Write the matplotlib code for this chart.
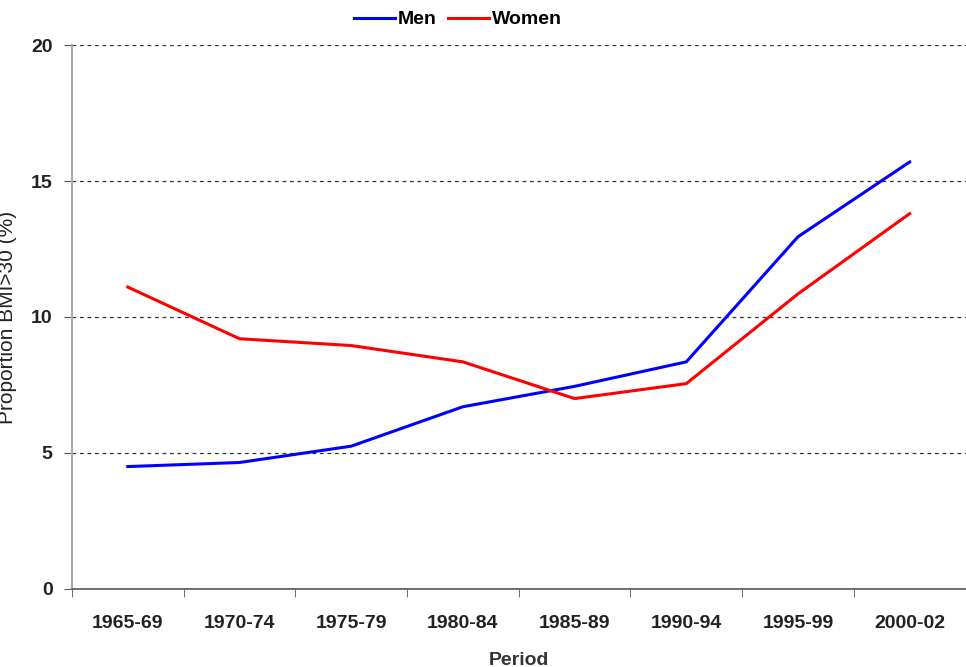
import matplotlib.pyplot as plt

periods = ['1965-69', '1970-74', '1975-79', '1980-84', '1985-89', '1990-94', '1995-99', '2000-02']
men = [4.5, 4.65, 5.25, 6.7, 7.45, 8.35, 12.95, 15.7]
women = [11.1, 9.2, 8.95, 8.35, 7.0, 7.55, 10.85, 13.8]

plt.rcParams['font.family'] = ['Liberation Sans', 'DejaVu Sans']

fig = plt.figure(figsize=(9.66, 6.67), dpi=100)
ax = fig.add_axes([0.0745, 0.117, 0.925, 0.8155])

x = list(range(len(periods)))
ax.plot(x, men, color='#0000ff', lw=2.2, label='Men')
ax.plot(x, women, color='#ff0000', lw=2.2, label='Women')

ax.set_xlim(-0.5, len(periods) - 0.5)
ax.set_ylim(0, 20)
ax.set_yticks([0, 5, 10, 15, 20])
for y in [5, 10, 15, 20]:
    ax.axhline(y, color='#333333', lw=0.9, ls=(0, (3, 3)), zorder=0)

ax.set_xticks(x)
ax.set_xticklabels(periods, fontsize=14, fontweight='bold', color='#222222')
ax.set_xticks([i - 0.5 for i in range(len(periods) + 1)], minor=True)
ax.tick_params(axis='x', which='major', length=0, pad=19)
ax.tick_params(axis='x', which='minor', length=6, color='#555555')
ax.tick_params(axis='y', length=6, color='#555555', labelsize=14, pad=8)
for lbl in ax.get_yticklabels():
    lbl.set_fontweight('bold')
    lbl.set_color('#222222')

ax.spines['top'].set_visible(False)
ax.spines['right'].set_visible(False)
ax.spines['left'].set_color('#aaaaaa')
ax.spines['left'].set_linewidth(1.5)
ax.spines['bottom'].set_color('#555555')
ax.spines['bottom'].set_linewidth(1.2)

ax.set_xlabel('Period', fontsize=14, fontweight='bold', color='#333333', labelpad=14)
ax.set_ylabel('Proportion BMI>30 (%)', fontsize=15, color='#222222')
ax.yaxis.set_label_coords(-0.061, 0.5)

fig.legend(loc='upper center', bbox_to_anchor=(0.474, 1.01), ncol=2, frameon=False,
           prop={'size': 14, 'weight': 'bold'}, handlelength=2.1, handletextpad=0.15,
           columnspacing=0.6)

fig.savefig('out.png', dpi=100)
